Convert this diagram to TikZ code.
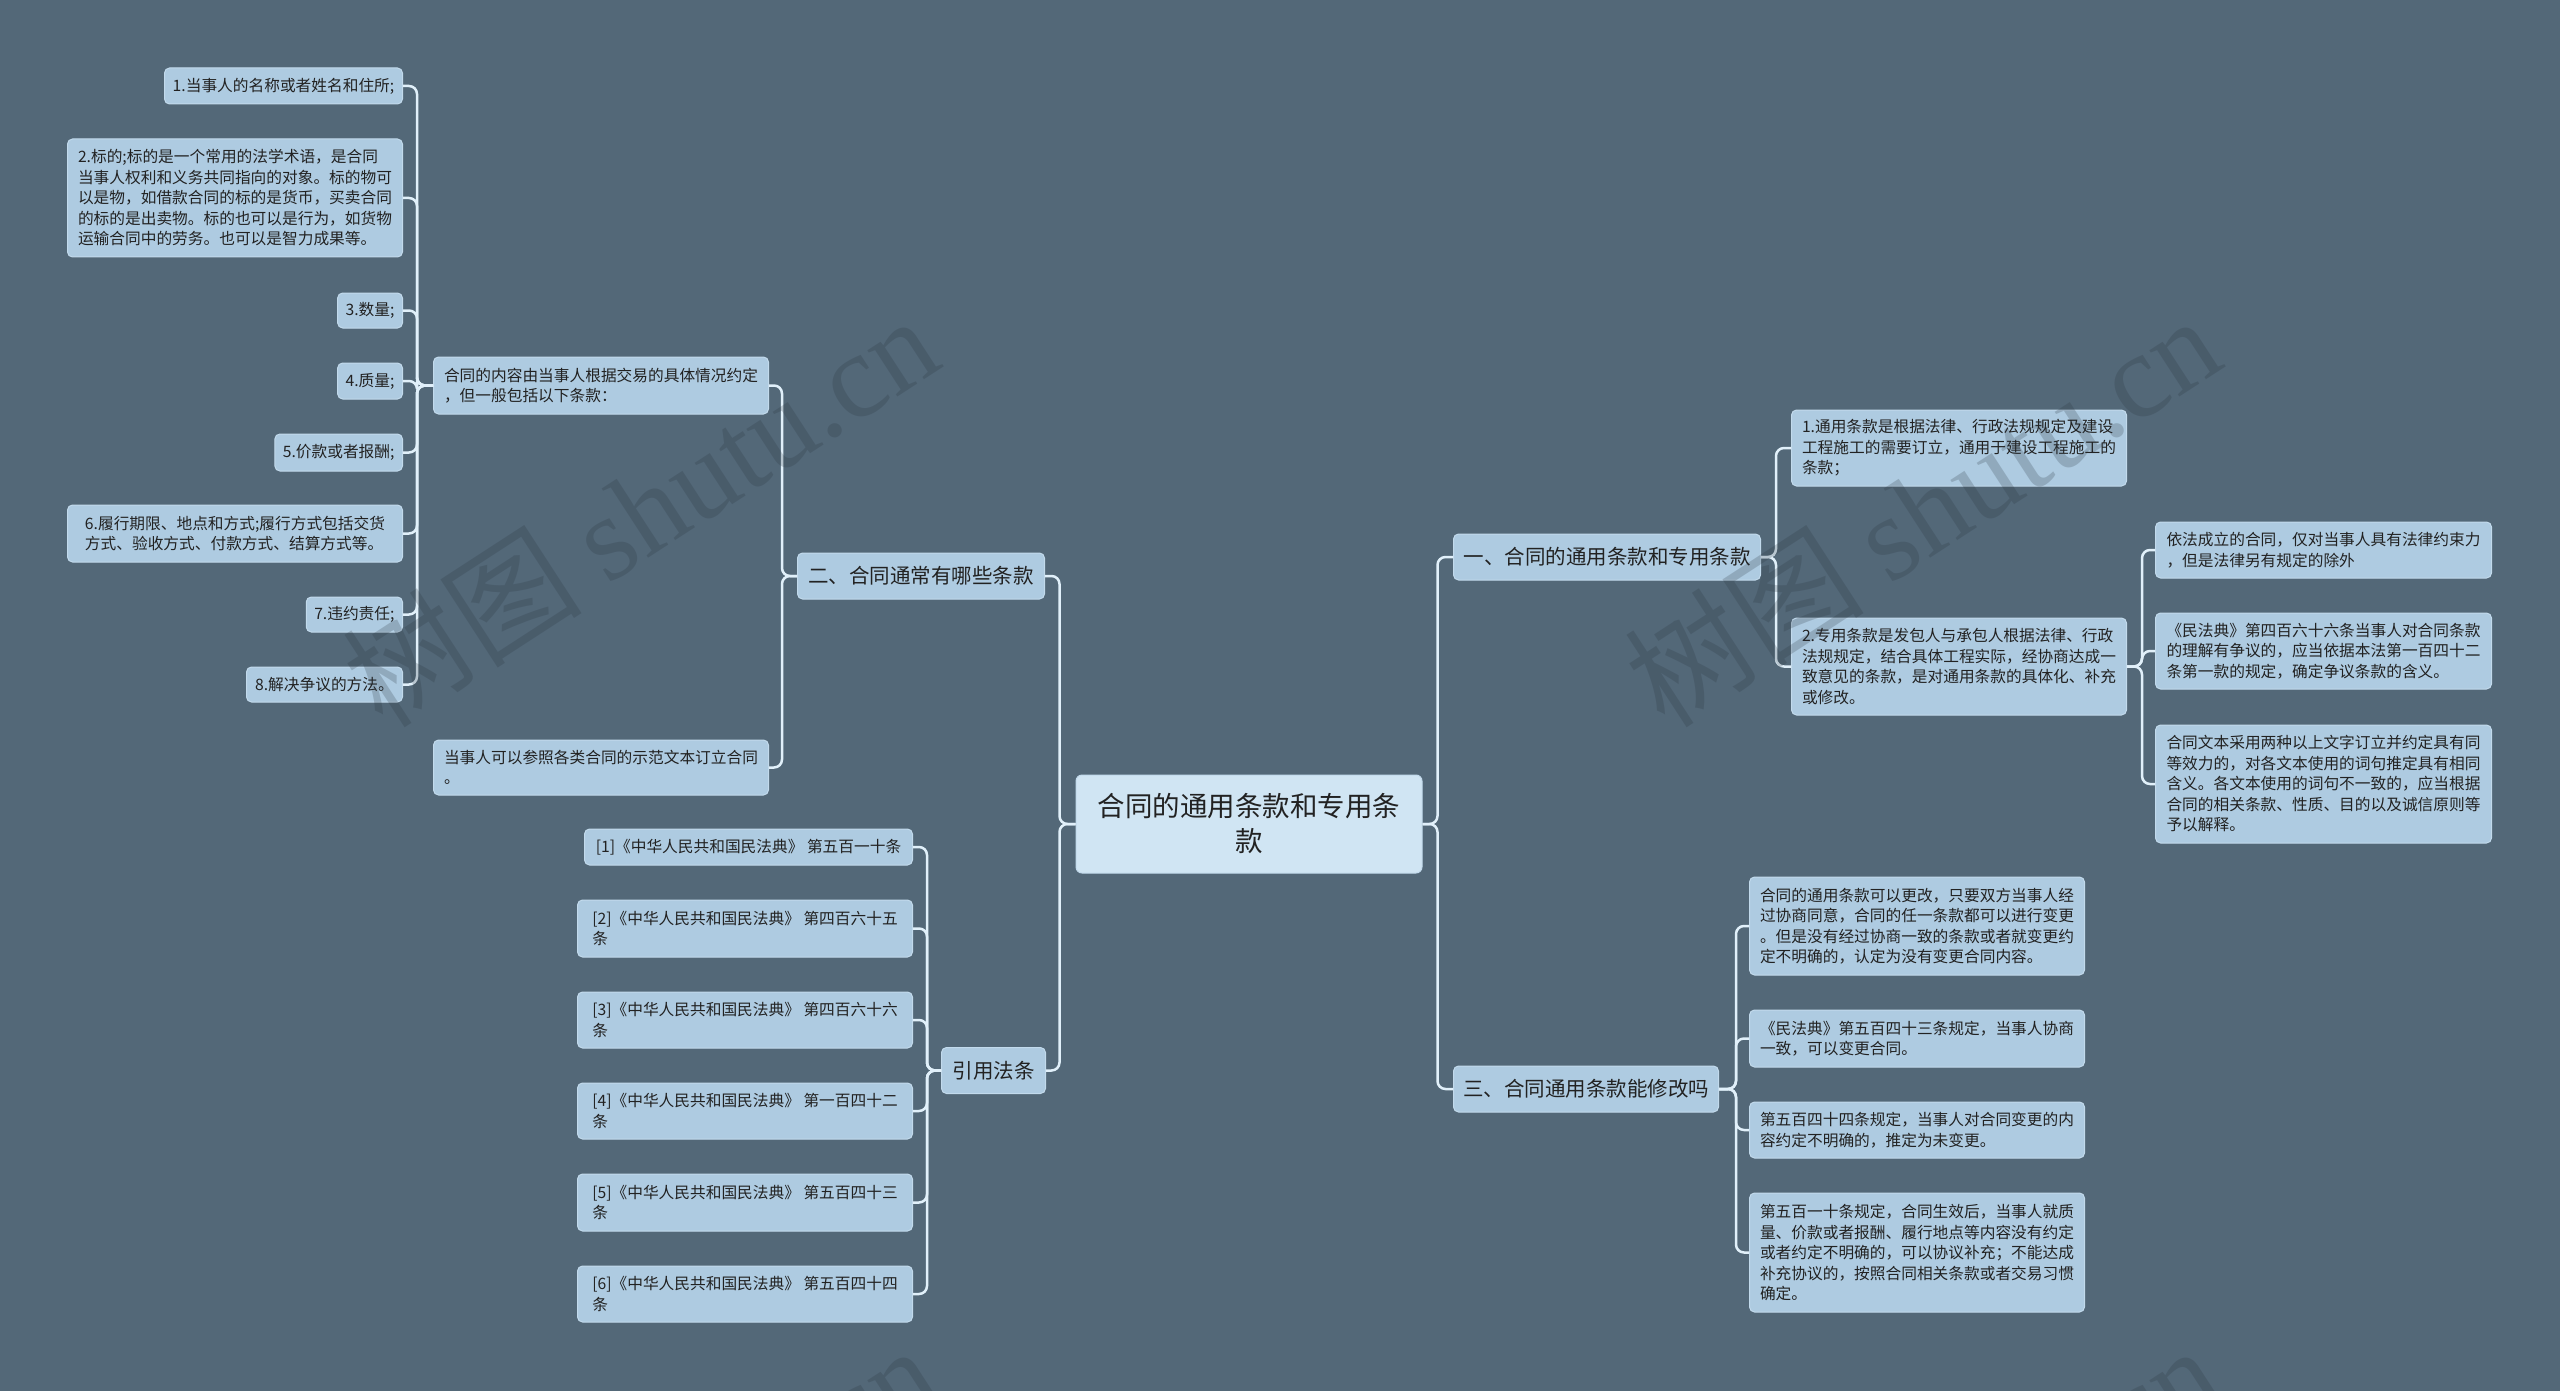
\documentclass[tikz,border=0pt]{standalone}
\usepackage{fontspec}
\setmainfont{Noto Sans CJK SC}
\newfontfamily\wmlatin{Liberation Serif}
\definecolor{bgc}{HTML}{536878}
\definecolor{nodefill}{HTML}{AECBE1}
\definecolor{rootfill}{HTML}{D0E5F3}
\definecolor{linec}{HTML}{E1F0FA}
\definecolor{txtc}{HTML}{222222}
\definecolor{bordc}{HTML}{C2DAEC}
\definecolor{wmc}{HTML}{28323C}
\begin{document}
\begin{tikzpicture}[x=1pt,y=-1pt,
  boxbase/.style={draw=bordc, line width=1pt, fill=nodefill, rounded corners=5pt, text=txtc},
  leaf/.style={boxbase, font=\fontsize{15.7}{20.5}\selectfont, align=left, inner xsep=8pt, inner ysep=6pt, minimum width=335pt},
  midbox/.style={boxbase, font=\fontsize{20.5}{26}\selectfont, align=center, inner xsep=8pt, inner ysep=4pt, minimum height=46pt},
  rootbox/.style={boxbase, fill=rootfill, rounded corners=6pt, font=\fontsize{27.5}{35}\selectfont, align=center},
  conn/.style={draw=linec, line width=2.5pt, rounded corners=8pt},
  wm/.style={text=wmc, opacity=0.22, rotate=33, inner sep=0pt, font=\fontsize{120}{130}\selectfont}
]
\fill[bgc] (0,0) rectangle (2560,1391);
\useasboundingbox (0,0) rectangle (2560,1391);

% root
\node[rootbox, minimum width=346pt, minimum height=98pt] (root) at (1249,824) {合同的通用条款和专用条\\款};

% level 1
\node[midbox, anchor=east, minimum width=247pt] (er) at (1045,576) {二、合同通常有哪些条款};
\node[midbox, anchor=east, minimum width=104pt] (yin) at (1046,1070.5) {引用法条};
\node[midbox, anchor=west, minimum width=307pt] (yi) at (1453,557) {一、合同的通用条款和专用条款};
\node[midbox, anchor=west, minimum width=265pt] (san) at (1453,1089) {三、合同通用条款能修改吗};

% level 2 left (under 二)
\node[leaf, anchor=east, minimum height=57pt] (nr) at (769,385.5) {合同的内容由当事人根据交易的具体情况约定\\，但一般包括以下条款：};
\node[leaf, anchor=east, minimum height=55pt] (dsr) at (769,767.5) {当事人可以参照各类合同的示范文本订立合同\\。};

% leaves under 合同的内容
\node[leaf, anchor=east, minimum width=238pt, minimum height=36pt] (a1) at (403,86) {1.当事人的名称或者姓名和住所;};
\node[leaf, anchor=east, minimum height=118pt] (a2) at (403,198) {2.标的;标的是一个常用的法学术语，是合同\\当事人权利和义务共同指向的对象。标的物可\\以是物，如借款合同的标的是货币，买卖合同\\的标的是出卖物。标的也可以是行为，如货物\\运输合同中的劳务。也可以是智力成果等。};
\node[leaf, anchor=east, minimum width=63pt, minimum height=35pt] (a3) at (403,310.5) {3.数量;};
\node[leaf, anchor=east, minimum width=63pt, minimum height=36pt] (a4) at (403,381) {4.质量;};
\node[leaf, anchor=east, minimum width=127pt, minimum height=37pt] (a5) at (403,452.5) {5.价款或者报酬;};
\node[leaf, anchor=east, minimum height=57pt] (a6) at (403,533.5) {6.履行期限、地点和方式;履行方式包括交货\\方式、验收方式、付款方式、结算方式等。};
\node[leaf, anchor=east, minimum width=96pt, minimum height=35pt] (a7) at (403,614.5) {7.违约责任;};
\node[leaf, anchor=east, minimum width=156pt, minimum height=35pt] (a8) at (403,684.5) {8.解决争议的方法。};

% leaves under 引用法条
\node[leaf, anchor=east, minimum width=328pt, minimum height=36pt] (c1) at (913,847) {[1]《中华人民共和国民法典》 第五百一十条};
\node[leaf, anchor=east, minimum height=57pt] (c2) at (913,928.5) {[2]《中华人民共和国民法典》 第四百六十五\\条};
\node[leaf, anchor=east, minimum height=56pt] (c3) at (913,1020) {[3]《中华人民共和国民法典》 第四百六十六\\条};
\node[leaf, anchor=east, minimum height=56pt] (c4) at (913,1111) {[4]《中华人民共和国民法典》 第一百四十二\\条};
\node[leaf, anchor=east, minimum height=57pt] (c5) at (913,1202.5) {[5]《中华人民共和国民法典》 第五百四十三\\条};
\node[leaf, anchor=east, minimum height=56pt] (c6) at (913,1294) {[6]《中华人民共和国民法典》 第五百四十四\\条};

% leaves under 一
\node[leaf, anchor=west, minimum height=76pt] (b1) at (1791,448) {1.通用条款是根据法律、行政法规规定及建设\\工程施工的需要订立，通用于建设工程施工的\\条款；};
\node[leaf, anchor=west, minimum height=97pt] (b2) at (1791,666.5) {2.专用条款是发包人与承包人根据法律、行政\\法规规定，结合具体工程实际，经协商达成一\\致意见的条款，是对通用条款的具体化、补充\\或修改。};

% leaves under 2.专用条款
\node[leaf, anchor=west, minimum width=336pt, minimum height=56pt] (d1) at (2155,550) {依法成立的合同，仅对当事人具有法律约束力\\，但是法律另有规定的除外};
\node[leaf, anchor=west, minimum width=336pt, minimum height=76pt] (d2) at (2155,651) {《民法典》第四百六十六条当事人对合同条款\\的理解有争议的，应当依据本法第一百四十二\\条第一款的规定，确定争议条款的含义。};
\node[leaf, anchor=west, minimum width=336pt, minimum height=118pt] (d3) at (2155,784) {合同文本采用两种以上文字订立并约定具有同\\等效力的，对各文本使用的词句推定具有相同\\含义。各文本使用的词句不一致的，应当根据\\合同的相关条款、性质、目的以及诚信原则等\\予以解释。};

% leaves under 三
\node[leaf, anchor=west, minimum height=98pt] (e1) at (1749,926) {合同的通用条款可以更改，只要双方当事人经\\过协商同意，合同的任一条款都可以进行变更\\。但是没有经过协商一致的条款或者就变更约\\定不明确的，认定为没有变更合同内容。};
\node[leaf, anchor=west, minimum height=57pt] (e2) at (1749,1038.5) {《民法典》第五百四十三条规定，当事人协商\\一致，可以变更合同。};
\node[leaf, anchor=west, minimum height=56pt] (e3) at (1749,1130) {第五百四十四条规定，当事人对合同变更的内\\容约定不明确的，推定为未变更。};
\node[leaf, anchor=west, minimum height=119pt] (e4) at (1749,1252.5) {第五百一十条规定，合同生效后，当事人就质\\量、价款或者报酬、履行地点等内容没有约定\\或者约定不明确的，可以协议补充；不能达成\\补充协议的，按照合同相关条款或者交易习惯\\确定。};

% connectors
\foreach \t in {er,yin} \draw[conn] (root.west) -- ++(-16,0) |- (\t.east);
\foreach \t in {yi,san} \draw[conn] (root.east) -- ++(15,0) |- (\t.west);
\foreach \t in {nr,dsr} \draw[conn] (er.west) -- ++(-15,0) |- (\t.east);
\foreach \t in {a1,a2,a3,a4,a5,a6,a7,a8} \draw[conn] (nr.west) -- ++(-16,0) |- (\t.east);
\foreach \t in {c1,c2,c3,c4,c5,c6} \draw[conn] (yin.west) -- ++(-14,0) |- (\t.east);
\foreach \t in {b1,b2} \draw[conn] (yi.east) -- ++(15,0) |- (\t.west);
\foreach \t in {d1,d2,d3} \draw[conn] (b2.east) -- ++(15,0) |- (\t.west);
\foreach \t in {e1,e2,e3,e4} \draw[conn] (san.east) -- ++(17,0) |- (\t.west);

% watermarks
\begin{scope}
\clip (0,0) rectangle (2560,1391);
\node[wm] (wm1) at (640,510) {树图 {\wmlatin shutu.cn}};
\node[wm] (wm2) at (1922,510) {树图 {\wmlatin shutu.cn}};
\node[wm] (wm3) at (640,1540) {树图 {\wmlatin shutu.cn}};
\node[wm] (wm4) at (1922,1540) {树图 {\wmlatin shutu.cn}};
\end{scope}
\end{tikzpicture}
\end{document}
